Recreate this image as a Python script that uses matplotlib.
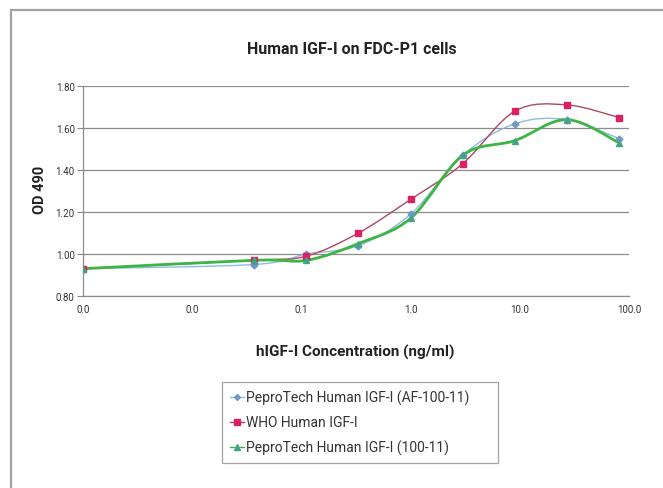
import numpy as np
import matplotlib.pyplot as plt
from matplotlib.path import Path
from matplotlib.patches import PathPatch, Rectangle
from matplotlib.lines import Line2D

plt.rcParams['font.family'] = ['Roboto', 'DejaVu Sans']

# concentrations (ng/ml), 0.001 stands in for the blank
conc = [0.001, 0.037, 0.111, 0.333, 1.0, 3.0, 9.0, 27.0, 81.0]
af_100_11 = [0.93, 0.95, 1.00, 1.04, 1.19, 1.47, 1.62, 1.64, 1.55]
who_igf = [0.93, 0.97, 0.99, 1.10, 1.26, 1.43, 1.68, 1.71, 1.65]
pt_100_11 = [0.93, 0.97, 0.97, 1.05, 1.17, 1.47, 1.54, 1.64, 1.53]

xticks = [0.001, 0.01, 0.1, 1, 10, 100]
xtick_labels = ['0.0', '0.0', '0.1', '1.0', '10.0', '100.0']
yticks = [0.8, 1.0, 1.2, 1.4, 1.6, 1.8]


def smooth_path(xs, ys):
    # excel style smoothed line: bezier segments in (log x, y) space
    lx = np.log10(xs)
    y = np.asarray(ys, float)
    n = len(lx)
    verts = [(xs[0], y[0])]
    codes = [Path.MOVETO]
    for i in range(n - 1):
        i0, i2, i3 = max(i - 1, 0), i + 1, min(i + 2, n - 1)
        c1x = lx[i] + (lx[i2] - lx[i0]) / 6
        c1y = y[i] + (y[i2] - y[i0]) / 6
        c2x = lx[i2] - (lx[i3] - lx[i]) / 6
        c2y = y[i2] - (y[i3] - y[i]) / 6
        verts += [(10 ** c1x, c1y), (10 ** c2x, c2y), (xs[i2], y[i2])]
        codes += [Path.CURVE4] * 3
    return Path(verts, codes)


fig = plt.figure(figsize=(6.63, 4.89), dpi=100)
fig.patches.append(Rectangle((11 / 663, -0.1), 1.2, 1 - 11 / 489 + 0.1,
                             transform=fig.transFigure, fill=False,
                             edgecolor='#a0a0a0', linewidth=1.6))

ax = fig.add_axes([83 / 663, 1 - 297 / 489, 546 / 663, 210 / 489])
ax.set_xscale('log')
ax.set_xlim(0.001, 100)
ax.set_ylim(0.8, 1.8)

series = [
    (af_100_11, 'PeproTech Human IGF-I (AF-100-11)', '#8dbbe6', '#6f98c4', 'D', 3.5, 1.0),
    (who_igf, 'WHO Human IGF-I', '#a94a62', '#de1f62', 's', 4.5, 1.0),
    (pt_100_11, 'PeproTech Human IGF-I (100-11)', '#3db543', '#41a585', '^', 5, 2.0),
]
handles = []
for vals, name, lc, mc, mk, ms, lw in series:
    ax.add_patch(PathPatch(smooth_path(conc, vals), fill=False, edgecolor=lc,
                           linewidth=lw, zorder=3))
    ax.plot(conc, vals, linestyle='none', marker=mk, markersize=ms,
            color=mc, zorder=4)
    handles.append(Line2D([], [], color=lc, linewidth=1.0, marker=mk,
                          markersize=ms - 0.5, markerfacecolor=mc, markeredgecolor=mc))

ax.set_xticks(xticks)
ax.set_xticklabels(xtick_labels)
ax.xaxis.set_minor_locator(plt.NullLocator())
ax.set_yticks(yticks)
ax.set_yticklabels(['%.2f' % v for v in yticks])
ax.tick_params(axis='both', labelsize=7, colors='#333333', length=4,
               width=0.8, pad=2)
ax.tick_params(axis='x', length=0, pad=6)
ax.tick_params(axis='y', color='#888888')
ax.grid(axis='y', color='#8c8c8c', linewidth=0.9)
for s in ['top', 'right']:
    ax.spines[s].set_visible(False)
for s in ['left', 'bottom']:
    ax.spines[s].set_color('#8c8c8c')
    ax.spines[s].set_linewidth(0.9)

fig.text(352 / 663, 1 - 50 / 489, 'Human IGF-I on FDC-P1 cells', ha='center',
         va='center', fontsize=11.5, fontweight='bold', color='#222222')
fig.text(355 / 663, 1 - 352 / 489, 'hIGF-I Concentration (ng/ml)', ha='center',
         va='center', fontsize=11, fontweight='bold', color='#222222')
fig.text(40 / 663, 1 - 190 / 489, 'OD 490', ha='center', va='center',
         rotation=90, fontsize=10.5, fontweight='bold', color='#222222')

# legend box stretched to the wide excel frame
leg = fig.legend(handles, [s[1] for s in series], loc='upper left',
                 bbox_to_anchor=(222 / 663, 1 - 461 / 489, 276 / 663, 78 / 489),
                 mode='expand', fontsize=10,
                 frameon=True, fancybox=False, handlelength=1.0,
                 handletextpad=0.2, labelspacing=0.75, borderpad=0.55,
                 borderaxespad=0)
leg.get_frame().set_edgecolor('#8c8c8c')
leg.get_frame().set_linewidth(0.9)
for t in leg.get_texts():
    t.set_color('#333333')

fig.savefig('out.png', dpi=100)
